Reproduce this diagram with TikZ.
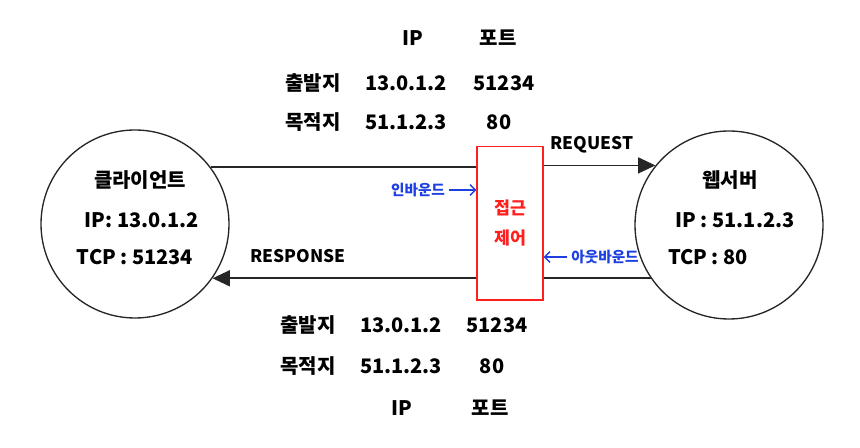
\documentclass[tikz,border=0pt]{standalone}
\usepackage{fontspec}
\setmainfont{Noto Sans CJK KR}
\usetikzlibrary{arrows.meta,calc,positioning}
\definecolor{aclred}{rgb}{1,0.12,0.12}
\definecolor{dirblue}{rgb}{0.12,0.25,0.88}

\begin{document}
\begin{tikzpicture}[x=0.75pt,y=-0.75pt,
    host/.style={circle,draw=black!85,line width=1pt,minimum size=141pt,inner sep=0pt},
    txt/.style={font=\fontsize{15}{18}\selectfont\bfseries,inner sep=0pt},
    small/.style={font=\fontsize{13}{16}\selectfont\bfseries,inner sep=0pt},
    wire/.style={draw=black!85,line width=1.2pt},
    bigtip/.style={-{Triangle[length=13pt,width=12pt]}},
    dir/.style={dirblue,font=\fontsize{11}{13}\selectfont\bfseries,inner sep=0pt}]
        \useasboundingbox (0,0) rectangle (860,448);
        % Hosts
        \node[host] (client) at (135,224) {};
        \node[host] (server) at (729,225) {};
        \node[txt] (clientname) at (140,180) {클라이언트};
        \node[txt] (clientip) at (142,220) {IP: 13.0.1.2};
        \node[txt] (clienttcp) at (135,257) {TCP : 51234};
        \node[txt] (servername) at (730,180) {웹서버};
        \node[txt] (serverip) at (735,220) {IP : 51.1.2.3};
        \node[txt] (servertcp) at (708,257) {TCP : 80};
        % Access control box
        \node[draw=aclred,line width=1pt,minimum width=49.5pt,minimum height=115pt,
              text=aclred,align=center,font=\fontsize{13}{22.5}\selectfont\bfseries] (acl) at (510,223.5) {접근\\제어};
        % Request and response lines
        \draw[wire] (client.37) -- (client.37 -| acl.west);
        \draw[wire,bigtip] (acl.east |- server.141) -- (server.141);
        \draw[wire] (server.214) -- (server.214 -| acl.east);
        \draw[wire,bigtip] (acl.west |- client.-35) -- (client.-35);
        \node[small] (request) at (592,145) {REQUEST};
        \node[small] (response) at (298,256) {RESPONSE};
        % Inbound and outbound
        \node[dir] (inbound) at (418,190) {인바운드};
        \node[dir] (outbound) at (605,257) {아웃바운드};
        \draw[dirblue,line width=1pt,-{Straight Barb[length=4pt]}] ([xshift=3pt]inbound.east) -- (inbound -| acl.west);
        \draw[dirblue,line width=1pt,-{Straight Barb[length=4pt]}] ([xshift=-3pt]outbound.west) -- (outbound -| acl.east);
        % Request header
        \node[txt] (reqip) at (413,38) {IP};
        \node[txt] (reqport) at (498,38) {포트};
        \node[txt] (reqsrc) at (313,83) {출발지};
        \node[txt] (reqsrcip) at (406,83) {13.0.1.2};
        \node[txt] (reqsrcport) at (504,83) {51234};
        \node[txt] (reqdst) at (313,122) {목적지};
        \node[txt] (reqdstip) at (406,122) {51.1.2.3};
        \node[txt] (reqdstport) at (499,122) {80};
        % Response header
        \node[txt] (ressrc) at (308,325) {출발지};
        \node[txt] (ressrcip) at (401,325) {13.0.1.2};
        \node[txt] (ressrcport) at (497,325) {51234};
        \node[txt] (resdst) at (308,366) {목적지};
        \node[txt] (resdstip) at (401,366) {51.1.2.3};
        \node[txt] (resdstport) at (492,366) {80};
        \node[txt] (resip) at (402,408) {IP};
        \node[txt] (resport) at (490,408) {포트};
      \end{tikzpicture}
\end{document}
